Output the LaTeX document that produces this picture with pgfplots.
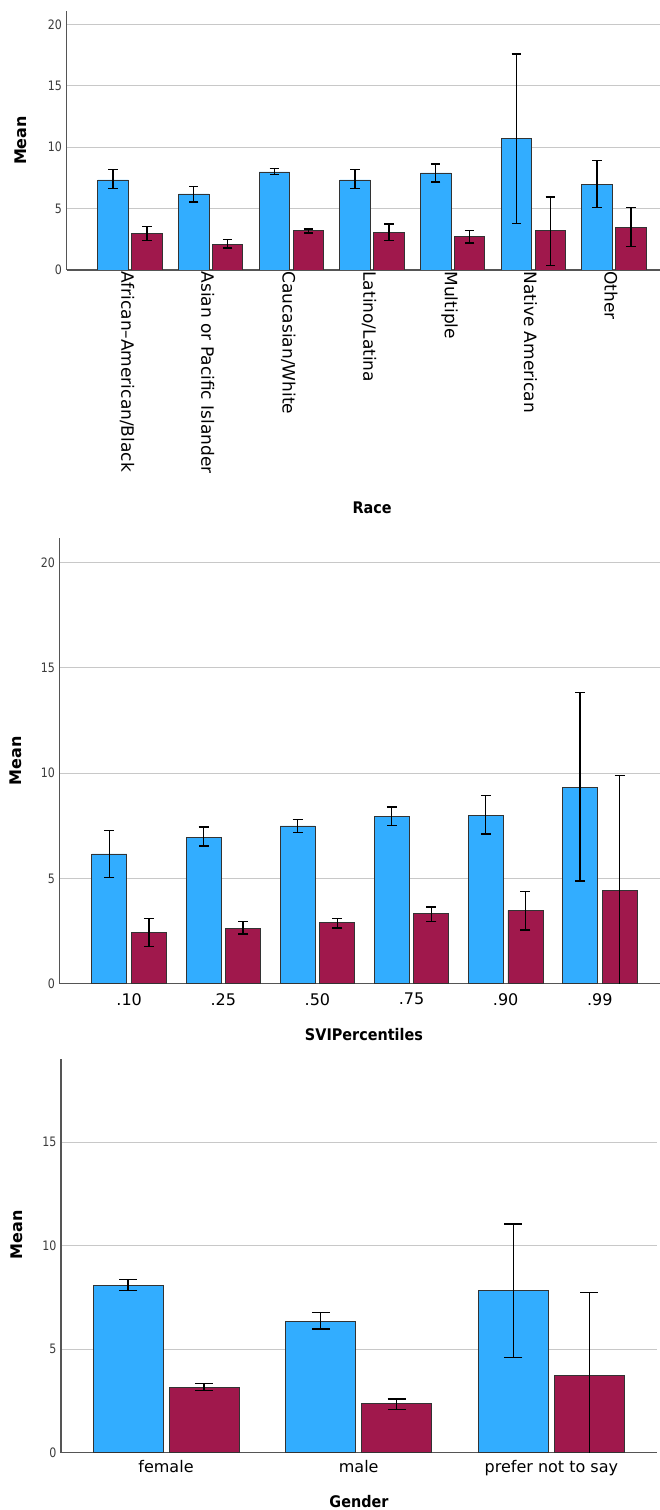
\documentclass[border=0pt]{standalone}
\usepackage{fontspec}
\setmainfont{DejaVu Sans}
\usepackage{graphicx}
\usepackage{pgfplots}
\usepackage{pgfplotstable}
\pgfplotsset{compat=1.18}
\definecolor{barblue}{RGB}{50,173,255}
\definecolor{barred}{RGB}{160,24,76}
\definecolor{gridgray}{RGB}{200,200,200}
\definecolor{axisgray}{RGB}{85,85,85}
\definecolor{tickgray}{RGB}{60,60,60}
\newcommand\ytl[1]{\fontsize{13}{13}\selectfont\scalebox{0.85}[1]{#1}}
\newcommand\xtlA{\fontsize{17}{17}\selectfont}
\newcommand\xtl{\fontsize{16}{16}\selectfont}
\newcommand\ttl{\fontsize{16}{16}\selectfont\bfseries}
\newcommand\cond[1]{\scalebox{0.9}[1]{#1}}

\pgfplotstableread{
x y ep em
0 7.33 0.84 0.71
1 6.19 0.62 0.65
2 7.98 0.27 0.22
3 7.33 0.84 0.71
4 7.90 0.73 0.74
5 10.69 6.89 6.92
6 6.97 1.96 1.90
}\raceA
\pgfplotstableread{
x y ep em
0 3.01 0.54 0.59
1 2.09 0.38 0.30
2 3.20 0.14 0.19
3 3.09 0.65 0.67
4 2.71 0.49 0.51
5 3.20 2.74 2.85
6 3.45 1.62 1.55
}\raceB
\pgfplotstableread{
x y ep em
0 6.16 1.11 1.13
1 6.95 0.49 0.41
2 7.49 0.31 0.32
3 7.96 0.43 0.44
4 8.01 0.93 0.90
5 9.32 4.52 4.44
}\sviA
\pgfplotstableread{
x y ep em
0 2.44 0.66 0.68
1 2.64 0.32 0.28
2 2.91 0.19 0.27
3 3.32 0.32 0.36
4 3.48 0.89 0.93
5 4.43 5.46 6.00
}\sviB
\pgfplotstableread{
x y ep em
0 8.10 0.26 0.26
1 6.36 0.40 0.38
2 7.84 3.21 3.25
}\genA
\pgfplotstableread{
x y ep em
0 3.16 0.17 0.16
1 2.37 0.22 0.27
2 3.74 3.99 5.00
}\genB

\pgfplotsset{
  spss/.style={
    scale only axis,
    anchor=south west,
    axis lines*=left,
    axis line style={-, draw=axisgray, line width=1.2pt},
    ymin=0,
    ymajorgrids,
    grid style={draw=gridgray, line width=0.9pt},
    major tick length=0pt,
    xtick style={draw=none}, ytick style={draw=none},
    /pgf/number format/assume math mode=true,
    yticklabel={\ytl{\pgfmathprintnumber{\tick}}},
    yticklabel style={text=tickgray, xshift=-1pt},
    ylabel={Mean},
    clip=true,
  },
  bluebar/.style={ybar, bar shift=0pt, fill=barblue, draw=black!80, line width=0.8pt},
  redbar/.style={ybar, bar shift=0pt, fill=barred, draw=black!80, line width=0.8pt},
}

\begin{document}
\begin{tikzpicture}[x=1pt,y=1pt]
\useasboundingbox (0,0) rectangle (660,1510);

% Panel 1: Race
\begin{axis}[spss,
  at={(66.5pt,1240pt)}, width=593.5pt, height=259pt,
  xmin=-0.787, xmax=6.57, ymax=21.09,
  ytick={0,5,10,15,20},
  xtick={0,1,2,3,4,5,6},
  xticklabels={African--American/Black,Asian or Pacific Islander,Caucasian/White,Latino/Latina,Multiple,Native American,Other},
  xticklabel style={rotate=-90, anchor=west, font=\xtlA, xshift=-2pt, yshift=-3pt},
  xlabel={\cond{Race}},
  every axis x label/.style={at={(axis description cs:0.515,-0.920)}, anchor=center, font=\ttl},
  every axis y label/.style={at={(axis description cs:-0.0767,0.5)}, rotate=90, anchor=center, font=\ttl},
]
\addplot[bluebar, bar width=0.377,
  error bars/.cd, y dir=both, y explicit,
  error bar style={line width=1.2pt, black},
  error mark options={rotate=90, mark size=4.7pt, line width=1.2pt, black}]
  table[x expr=\thisrow{x}-0.21, y=y, y error plus=ep, y error minus=em]{\raceA};
\addplot[redbar, bar width=0.377,
  error bars/.cd, y dir=both, y explicit,
  error bar style={line width=1.2pt, black},
  error mark options={rotate=90, mark size=4.7pt, line width=1.2pt, black}]
  table[x expr=\thisrow{x}+0.21, y=y, y error plus=ep, y error minus=em]{\raceB};
\end{axis}

% Panel 2: SVI Percentiles
\begin{axis}[spss,
  at={(59.5pt,526.3pt)}, width=600.5pt, height=445.4pt,
  xmin=-0.74, xmax=5.64, ymax=21.15,
  ytick={0,5,10,15,20},
  xtick={0,1,2,3,4,5},
  xticklabels={.10,.25,.50,.75,.90,.99},
  xticklabel style={font=\xtl, yshift=-6pt},
  xlabel={\cond{SVIPercentiles}},
  every axis x label/.style={at={(axis description cs:0.507,-0.115)}, anchor=center, font=\ttl},
  every axis y label/.style={at={(axis description cs:-0.0724,0.5)}, rotate=90, anchor=center, font=\ttl},
]
\addplot[bluebar, bar width=0.372,
  error bars/.cd, y dir=both, y explicit,
  error bar style={line width=1.2pt, black},
  error mark options={rotate=90, mark size=5pt, line width=1.2pt, black}]
  table[x expr=\thisrow{x}-0.21, y=y, y error plus=ep, y error minus=em]{\sviA};
\addplot[redbar, bar width=0.372,
  error bars/.cd, y dir=both, y explicit,
  error bar style={line width=1.2pt, black},
  error mark options={rotate=90, mark size=5pt, line width=1.2pt, black}]
  table[x expr=\thisrow{x}+0.21, y=y, y error plus=ep, y error minus=em]{\sviB};
\end{axis}

% Panel 3: Gender
\begin{axis}[spss,
  at={(61pt,57.3pt)}, width=596pt, height=393.7pt,
  xmin=-0.545, xmax=2.548, ymax=19.02,
  ytick={0,5,10,15},
  xtick={0,1,2},
  xticklabels={female,male,prefer not to say},
  xticklabel style={font=\xtl, yshift=-4pt},
  xlabel={\cond{Gender}},
  every axis x label/.style={at={(axis description cs:0.5,-0.125)}, anchor=center, font=\ttl},
  every axis y label/.style={at={(axis description cs:-0.0742,0.553)}, rotate=90, anchor=center, font=\ttl},
]
\addplot[bluebar, bar width=0.363,
  error bars/.cd, y dir=both, y explicit,
  error bar style={line width=1.2pt, black},
  error mark options={rotate=90, mark size=9pt, line width=1.2pt, black}]
  table[x expr=\thisrow{x}-0.197, y=y, y error plus=ep, y error minus=em]{\genA};
\addplot[redbar, bar width=0.363,
  error bars/.cd, y dir=both, y explicit,
  error bar style={line width=1.2pt, black},
  error mark options={rotate=90, mark size=9pt, line width=1.2pt, black}]
  table[x expr=\thisrow{x}+0.197, y=y, y error plus=ep, y error minus=em]{\genB};
\end{axis}
\end{tikzpicture}
\end{document}
